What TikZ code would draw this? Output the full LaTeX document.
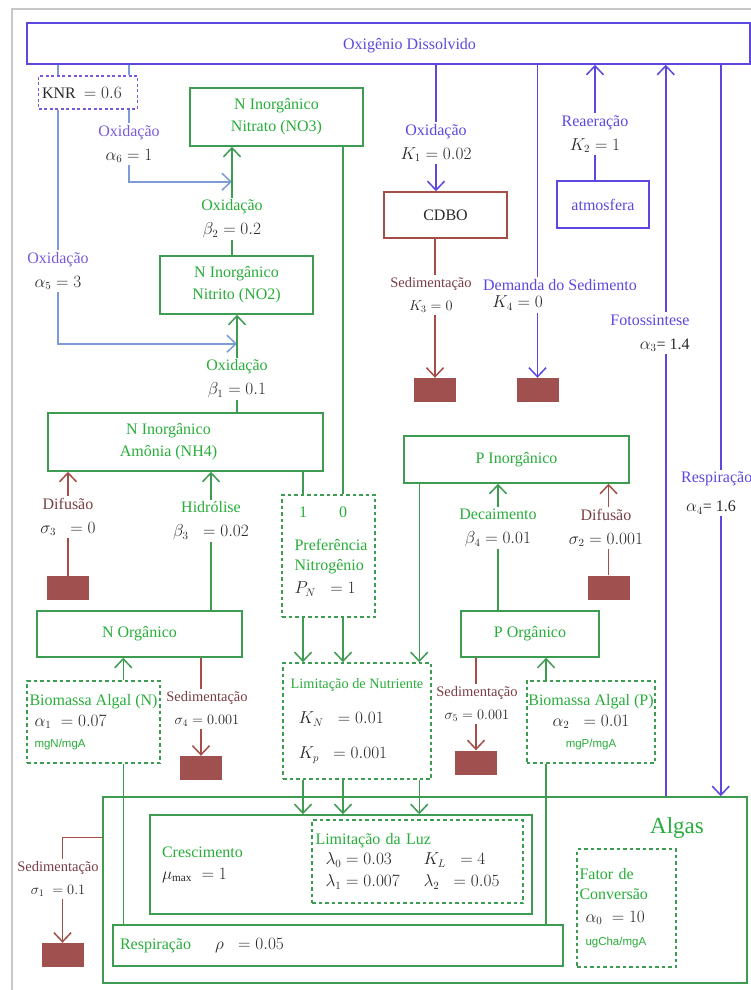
\documentclass[tikz,border=0pt]{standalone}
\usepackage{fontspec}
\setmainfont{Liberation Serif}
\setsansfont{Liberation Sans}
\usepackage{xcolor}
\usepackage{amsmath}
\usepackage{tikz}
\usetikzlibrary{positioning, shapes, arrows.meta, calc}

\definecolor{cblue}{RGB}{92,72,222}
\definecolor{clblue}{RGB}{125,155,215}
\definecolor{cknr}{RGB}{120,90,215}
\definecolor{cgreen}{RGB}{62,155,82}
\definecolor{ctgreen}{RGB}{40,172,58}
\definecolor{cbrown}{RGB}{165,78,72}
\definecolor{csed}{RGB}{160,80,78}
\definecolor{cbrtext}{RGB}{120,62,68}
\definecolor{cval}{RGB}{40,40,40}
\definecolor{cgray}{RGB}{200,200,200}

\newcommand{\val}[1]{\textcolor{cval}{#1}}
\newcommand{\unitsf}[1]{{\sffamily\fontsize{11.5}{13}\selectfont #1}}

\begin{document}
\begin{tikzpicture}[
    x=1pt, y=-1pt,
    font=\fontsize{16}{20}\selectfont,
    gbox/.style={draw=cgreen, line width=1.5pt, text=ctgreen, align=center},
    bbox/.style={draw=cblue, line width=1.5pt, text=cblue, align=center},
    rbox/.style={draw=cbrown, line width=1.5pt, text=cval},
    dbox/.style={gbox, dash pattern=on 3.5pt off 3pt, align=left, inner xsep=1.5pt},
    sedblk/.style={fill=csed, minimum width=42, minimum height=24, inner sep=0pt},
    lab/.style={align=center, inner sep=2pt, font=\fontsize{16}{24}\selectfont},
    sedlab/.style={lab, text=cbrtext, font=\fontsize{14.5}{23}\selectfont},
    arr/.style={-{Straight Barb[length=9pt, width=17pt]}},
    gedge/.style={draw=cgreen, line width=1.5pt},
    bedge/.style={draw=cblue, line width=1.5pt},
    lbedge/.style={draw=clblue, line width=1.5pt},
    redge/.style={draw=cbrown, line width=1.5pt}
]
\useasboundingbox (0,0) rectangle (751,990);
\draw[cgray, line width=2pt] (12,9) rectangle (775,1010);

% Oxigenio dissolvido and KNR
\node[bbox, minimum width=723, minimum height=41,
      label={[text=cblue, xshift=21pt, yshift=-2pt]center:Oxigênio Dissolvido}] (od) at (388.5,43.5) {};
\node[draw=cknr, dash pattern=on 3pt off 2.5pt, line width=1.5pt, text=cval,
      text width=92, align=left, minimum height=33] (knr) at (88,92.5) {KNR $\,= 0.6$};

% Nitrogen boxes
\node[gbox, minimum width=173, minimum height=58] (no3) at (276.5,117) {N Inorgânico\\[2pt]Nitrato (NO3)};
\node[gbox, minimum width=153, minimum height=58] (no2) at (236.5,285) {N Inorgânico\\[2pt]Nitrito (NO2)};
\node[gbox, minimum width=275, minimum height=58,
      label={[text=ctgreen, align=center, xshift=-17pt]center:N Inorgânico\\[2pt]Amônia (NH4)}] (nh4) at (185.5,442) {};
\node[gbox, minimum width=205, minimum height=46] (norg) at (139.5,634) {N Orgânico};

% CDBO and atmosphere
\node[rbox, minimum width=123, minimum height=46] (cdbo) at (445.5,215) {CDBO};
\node[bbox, minimum width=92, minimum height=47] (atm) at (603,204.5) {atmosfera};

% Phosphorus boxes
\node[gbox, minimum width=225, minimum height=47] (pinorg) at (516.5,459.5) {P Inorgânico};
\node[gbox, minimum width=138, minimum height=46] (porg) at (530,634) {P Orgânico};

% Dashed parameter boxes
\node[dbox, minimum width=93, minimum height=122] (pref) at (328.5,556) {};
\node[text=ctgreen, align=left] (preftxt) at (331,568) {Preferência\\Nitrogênio\\[3pt]\val{$P_N\;\; = 1$}};
\node[text=ctgreen] (p1) at (303,512) {1};
\node[text=ctgreen] (p0) at (343,512) {0};
\node[dbox, minimum width=148, minimum height=116] (limn) at (357,721)
  {{\fontsize{14.3}{17}\selectfont Limitação de Nutriente}\\[15pt]
   \hspace*{8pt}\val{$K_N\;\; = 0.01$}\\[15pt]
   \hspace*{8pt}\val{$K_p\;\; = 0.001$}};
\node[dbox, minimum width=133, minimum height=82] (bion) at (93.5,722)
  {Biomassa Algal (N)\\[1pt]\hspace*{5pt}\val{$\alpha_1\; = 0.07$}\\[1pt]\hspace*{5pt}\unitsf{mgN/mgA}};
\node[dbox, align=center, minimum width=128, minimum height=82] (biop) at (591,722)
  {Biomassa Algal (P)\\[1pt]\val{$\alpha_2\;\; = 0.01$}\\[1pt]\unitsf{mgP/mgA}};

% Algae
\node[gbox, minimum width=644, minimum height=186] (algas) at (425,890) {};
\node[text=ctgreen, font=\fontsize{23}{26}\selectfont] (algastxt) at (677,828) {Algas};
\node[gbox, minimum width=382, minimum height=99, text width=358, align=left] (cresc) at (341,864.5)
  {Crescimento\\[2pt]\val{$\mu_{\mathrm{max}}\; = 1$}};
\node[dbox, minimum width=211, minimum height=83, text width=204] (limluz) at (417.5,861.5)
  {Limitação da Luz\\[0pt]
   \hspace*{10pt}\val{\makebox[98pt][l]{$\lambda_0 = 0.03$}$K_L\;\; = 4$}\\[2pt]
   \hspace*{10pt}\val{\makebox[98pt][l]{$\lambda_1 = 0.007$}$\lambda_2\;\; = 0.05$}};
\node[gbox, minimum width=450, minimum height=41, text width=436, align=left] (resp) at (338,945.5)
  {Respiração\hspace{24pt}\val{$\rho\;\; = 0.05$}};
\node[dbox, minimum width=99, minimum height=118, text width=94] (fator) at (626.5,908)
  {Fator de\\Conversão\\[3pt]\hspace*{6pt}\val{$\alpha_0\; = 10$}\\[3pt]\hspace*{6pt}\unitsf{ugCha/mgA}};

% Sediment blocks
\node[sedblk] (bk3) at (435,390) {};
\node[sedblk] (bk4) at (537.5,390) {};
\node[sedblk] (bs3) at (68,588) {};
\node[sedblk] (bs2) at (608.5,587.5) {};
\node[sedblk] (bs4) at (201,768) {};
\node[sedblk] (bs5) at (476,762.5) {};
\node[sedblk] (bs1) at (62.5,955) {};

% Rate labels
\node[lab, text=cknr] (ox6) at (129,144) {Oxidação\\\val{$\alpha_6 = 1$}};
\node[lab, text=cknr] (ox5) at (58,271) {Oxidação\\\val{$\alpha_5 = 3$}};
\node[lab, text=ctgreen] (ox2) at (232,219) {Oxidação\\\val{$\beta_2 = 0.2$}};
\node[lab, text=ctgreen] (ox1) at (237,379) {Oxidação\\\val{$\beta_1 = 0.1$}};
\node[lab, text=ctgreen] (hid) at (211,521) {Hidrólise\\\val{$\beta_3\;\; = 0.02$}};
\node[lab, text=cbrtext] (dif3) at (68,517) {Difusão\\\val{$\sigma_3\;\; = 0$}};
\node[lab, text=ctgreen] (dec) at (498,528) {Decaimento\\\val{$\beta_4 = 0.01$}};
\node[lab, text=cbrtext] (dif2) at (606,528) {Difusão\\\val{$\sigma_2 = 0.001$}};
\node[sedlab] (sed4) at (207,709) {Sedimentação\\\val{$\sigma_4 = 0.001$}};
\node[sedlab] (sed5) at (477,704) {Sedimentação\\\val{$\sigma_5 = 0.001$}};
\node[sedlab] (sed1) at (58,879) {Sedimentação\\\val{$\sigma_1\; = 0.1$}};
\node[sedlab] (sed3) at (431,295) {Sedimentação\\\val{$K_3 = 0$}};
\node[lab, text=cblue] (dem) at (560,285) {Demanda do Sedimento};
\node[lab, below left=1pt and -64pt of dem] (k4) {\val{$K_4 = 0$}};
\node[lab, text=cblue] (ox1k) at (436,143) {Oxidação\\\val{$K_1 = 0.02$}};
\node[lab, text=cblue] (rea) at (595,134) {Reaeração\\\val{$K_2 = 1$}};
\node[lab, text=cblue, align=right] (fot) at (650,333) {Fotossintese\\\val{$\alpha_3$= 1.4}};
\node[lab, text=cblue, align=left, anchor=west] (resp4) at (679,493)
  {Respiração\\[5pt]\hspace*{5pt}\val{$\alpha_4$= 1.6}};

% Junctions and rails
\coordinate (j2) at ($(no2.south -| ox1)+(0,29)$);
\coordinate (j3) at ($(no3.south -| ox2)+(0,35)$);
\coordinate (prail) at ([xshift=16pt]pinorg.south west);
\coordinate (nrail) at ([xshift=97pt]bion.north west);
\coordinate (prail2) at ([xshift=20pt]biop.north west);
\coordinate (frail) at ($(algas.north east)+(-82,0)$);
\coordinate (rrail) at ($(algas.north east)+(-27,0)$);

% Oxygen to nitrogen (KNR)
\draw[lbedge] (od.south -| ox5) -- (knr.north -| ox5);
\draw[lbedge] (od.south -| ox6) -- (knr.north -| ox6);
\draw[lbedge] (knr.south -| ox5) -- (ox5);
\draw[lbedge] (knr.south -| ox6) -- (ox6);
\draw[lbedge, arr] (ox5) |- (j2);
\draw[lbedge, arr] (ox6) |- (j3);

% Nitrogen chain
\draw[gedge] (no2.north -| ox2) -- (ox2);
\draw[gedge, arr] (ox2) -- (no3.south -| ox2);
\draw[gedge] (nh4.north -| ox1) -- (ox1);
\draw[gedge, arr] (ox1) -- (no2.south -| ox1);
\draw[gedge] (norg.north -| hid) -- (hid);
\draw[gedge, arr] (hid) -- (nh4.south -| hid);
\draw[gedge] (nh4.south -| p1) -- (pref.north -| p1);
\draw[gedge] (no3.south -| p0) -- (pref.north -| p0);

% Nutrient limitation
\draw[gedge, arr] (pref.south -| p1) -- (limn.north -| p1);
\draw[gedge, arr] (pref.south -| p0) -- (limn.north -| p0);
\draw[gedge, arr] (prail) -- (limn.north -| prail);
\draw[gedge, arr] (limn.south -| p1) -- (cresc.north -| p1);
\draw[gedge, arr] (limn.south -| p0) -- (cresc.north -| p0);
\draw[gedge, arr] (limn.south -| prail) -- (cresc.north -| prail);

% Phosphorus and biomass
\draw[gedge] (porg.north -| dec) -- (dec);
\draw[gedge, arr] (dec) -- (pinorg.south -| dec);
\draw[gedge, arr] (nrail) -- (norg.south -| nrail);
\draw[gedge] (bion.south -| nrail) -- (resp.north -| nrail);
\draw[gedge, arr] (prail2) -- (porg.south -| prail2);
\draw[gedge] (biop.south -| prail2) -- (resp.north -| prail2);

% Sediment fluxes
\draw[redge] (cdbo.south -| bk3) -- (sed3.north -| bk3);
\draw[redge, arr] (sed3.south -| bk3) -- (bk3);
\draw[redge] (bs3) -- (dif3.south -| bs3);
\draw[redge, arr] (dif3.north -| bs3) -- (nh4.south -| bs3);
\draw[redge] (bs2) -- (dif2.south -| bs2);
\draw[redge, arr] (dif2.north -| bs2) -- (pinorg.south -| bs2);
\draw[redge] (norg.south -| bs4) -- (sed4.north -| bs4);
\draw[redge, arr] (sed4.south -| bs4) -- (bs4);
\draw[redge] (porg.south -| bs5) -- (sed5.north -| bs5);
\draw[redge, arr] (sed5.south -| bs5) -- (bs5);
\draw[redge] ($(algas.north west)+(0,41)$) -| (sed1.north -| bs1);
\draw[redge, arr] (sed1.south -| bs1) -- (bs1);

% Oxygen fluxes
\draw[bedge] (od.south -| ox1k) -- (ox1k);
\draw[bedge, arr] (ox1k) -- (cdbo.north -| ox1k);
\draw[bedge] (od.south -| bk4) -- (dem.north -| bk4);
\draw[bedge, arr] (k4.south -| bk4) -- (bk4);
\draw[bedge] (atm.north -| rea) -- (rea);
\draw[bedge, arr] (rea) -- (od.south -| rea);
\draw[bedge] (frail) -- (fot.south -| frail);
\draw[bedge, arr] (fot.north -| frail) -- (od.south -| frail);
\draw[bedge] (od.south -| rrail) -- (resp4.north -| rrail);
\draw[bedge, arr] (resp4.south -| rrail) -- (rrail);

\end{tikzpicture}
\end{document}
